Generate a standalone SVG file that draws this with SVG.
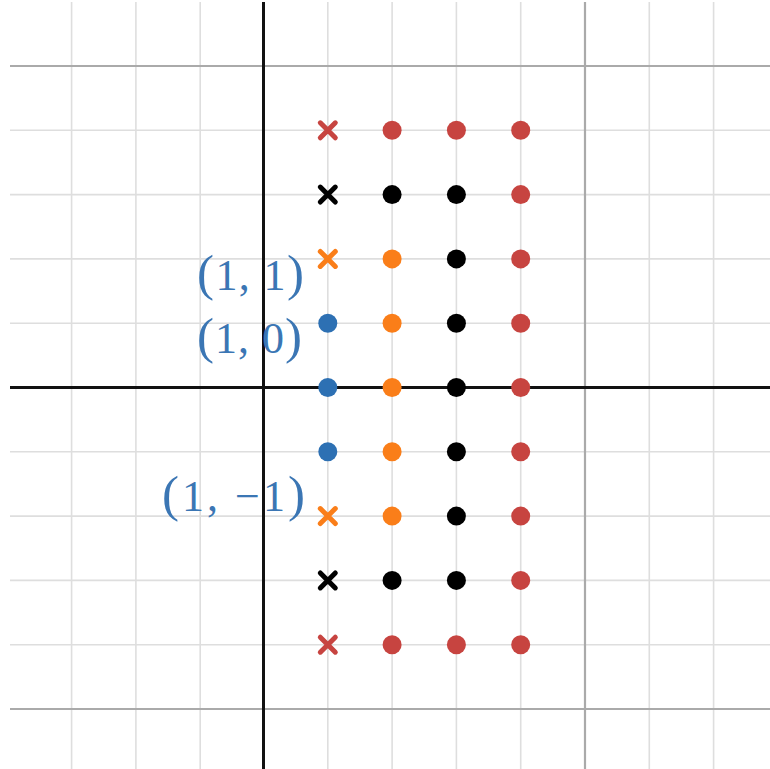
<svg xmlns="http://www.w3.org/2000/svg" width="770" height="769" viewBox="0 0 770 769">
<style>
.minor{stroke:#dedede;stroke-width:1.6}
.major{stroke:#aaaaaa;stroke-width:2.2}
.axis{stroke:#111;stroke-width:3}
.r{fill:#c74440}.b{fill:#2d70b3}.o{fill:#fa7e19}.k{fill:#000}
.xr{stroke:#c74440}.xo{stroke:#fa7e19}.xk{stroke:#000}
.x{stroke-width:5;stroke-linecap:round;fill:none}
.lbl{font-family:"Liberation Serif","DejaVu Serif",serif;font-size:44px;fill:#3b76b4}
.p{font-size:51px}
</style>
<defs>
<path id="cross" d="M-7.5,-7.5L7.5,7.5M-7.5,7.5L7.5,-7.5"/>
</defs>
<rect width="770" height="769" fill="#fff"/>
<g id="grid">
<line class="minor" x1="71.6" y1="2" x2="71.6" y2="769"/>
<line class="minor" x1="135.9" y1="2" x2="135.9" y2="769"/>
<line class="minor" x1="200.2" y1="2" x2="200.2" y2="769"/>
<line class="minor" x1="327.8" y1="2" x2="327.8" y2="769"/>
<line class="minor" x1="392.1" y1="2" x2="392.1" y2="769"/>
<line class="minor" x1="456.4" y1="2" x2="456.4" y2="769"/>
<line class="minor" x1="520.7" y1="2" x2="520.7" y2="769"/>
<line class="minor" x1="649.3" y1="2" x2="649.3" y2="769"/>
<line class="minor" x1="713.6" y1="2" x2="713.6" y2="769"/>
<line class="minor" x1="10" y1="130.3" x2="770" y2="130.3"/>
<line class="minor" x1="10" y1="194.6" x2="770" y2="194.6"/>
<line class="minor" x1="10" y1="258.9" x2="770" y2="258.9"/>
<line class="minor" x1="10" y1="323.2" x2="770" y2="323.2"/>
<line class="minor" x1="10" y1="451.8" x2="770" y2="451.8"/>
<line class="minor" x1="10" y1="516.1" x2="770" y2="516.1"/>
<line class="minor" x1="10" y1="580.4" x2="770" y2="580.4"/>
<line class="minor" x1="10" y1="644.7" x2="770" y2="644.7"/>
<line class="major" x1="585" y1="2" x2="585" y2="769"/>
<line class="major" x1="10" y1="66" x2="770" y2="66"/>
<line class="major" x1="10" y1="709" x2="770" y2="709"/>
<line class="axis" x1="263.5" y1="2" x2="263.5" y2="769"/>
<line class="axis" x1="10" y1="387.5" x2="770" y2="387.5"/>
</g>
<g id="labels">
<text class="lbl" x="197" y="290" textLength="107" lengthAdjust="spacing"><tspan class="p">(</tspan>1, 1<tspan class="p">)</tspan></text>
<text class="lbl" x="197" y="353" textLength="105" lengthAdjust="spacing"><tspan class="p">(</tspan>1, 0<tspan class="p">)</tspan></text>
<text class="lbl" x="162" y="511" textLength="143" lengthAdjust="spacing"><tspan class="p">(</tspan>1, −1<tspan class="p">)</tspan></text>
</g>
<g id="points">
<use href="#cross" class="x xr" x="327.8" y="130.3"/>
<use href="#cross" class="x xk" x="327.8" y="194.6"/>
<use href="#cross" class="x xo" x="327.8" y="258.9"/>
<circle class="b" cx="327.8" cy="323.2" r="9.5"/>
<circle class="b" cx="327.8" cy="387.5" r="9.5"/>
<circle class="b" cx="327.8" cy="451.8" r="9.5"/>
<use href="#cross" class="x xo" x="327.8" y="516.1"/>
<use href="#cross" class="x xk" x="327.8" y="580.4"/>
<use href="#cross" class="x xr" x="327.8" y="644.7"/>

<circle class="r" cx="392.1" cy="130.3" r="9.5"/>
<circle class="k" cx="392.1" cy="194.6" r="9.5"/>
<circle class="o" cx="392.1" cy="258.9" r="9.5"/>
<circle class="o" cx="392.1" cy="323.2" r="9.5"/>
<circle class="o" cx="392.1" cy="387.5" r="9.5"/>
<circle class="o" cx="392.1" cy="451.8" r="9.5"/>
<circle class="o" cx="392.1" cy="516.1" r="9.5"/>
<circle class="k" cx="392.1" cy="580.4" r="9.5"/>
<circle class="r" cx="392.1" cy="644.7" r="9.5"/>

<circle class="r" cx="456.4" cy="130.3" r="9.5"/>
<circle class="k" cx="456.4" cy="194.6" r="9.5"/>
<circle class="k" cx="456.4" cy="258.9" r="9.5"/>
<circle class="k" cx="456.4" cy="323.2" r="9.5"/>
<circle class="k" cx="456.4" cy="387.5" r="9.5"/>
<circle class="k" cx="456.4" cy="451.8" r="9.5"/>
<circle class="k" cx="456.4" cy="516.1" r="9.5"/>
<circle class="k" cx="456.4" cy="580.4" r="9.5"/>
<circle class="r" cx="456.4" cy="644.7" r="9.5"/>

<circle class="r" cx="520.7" cy="130.3" r="9.5"/>
<circle class="r" cx="520.7" cy="194.6" r="9.5"/>
<circle class="r" cx="520.7" cy="258.9" r="9.5"/>
<circle class="r" cx="520.7" cy="323.2" r="9.5"/>
<circle class="r" cx="520.7" cy="387.5" r="9.5"/>
<circle class="r" cx="520.7" cy="451.8" r="9.5"/>
<circle class="r" cx="520.7" cy="516.1" r="9.5"/>
<circle class="r" cx="520.7" cy="580.4" r="9.5"/>
<circle class="r" cx="520.7" cy="644.7" r="9.5"/>
</g>
</svg>
